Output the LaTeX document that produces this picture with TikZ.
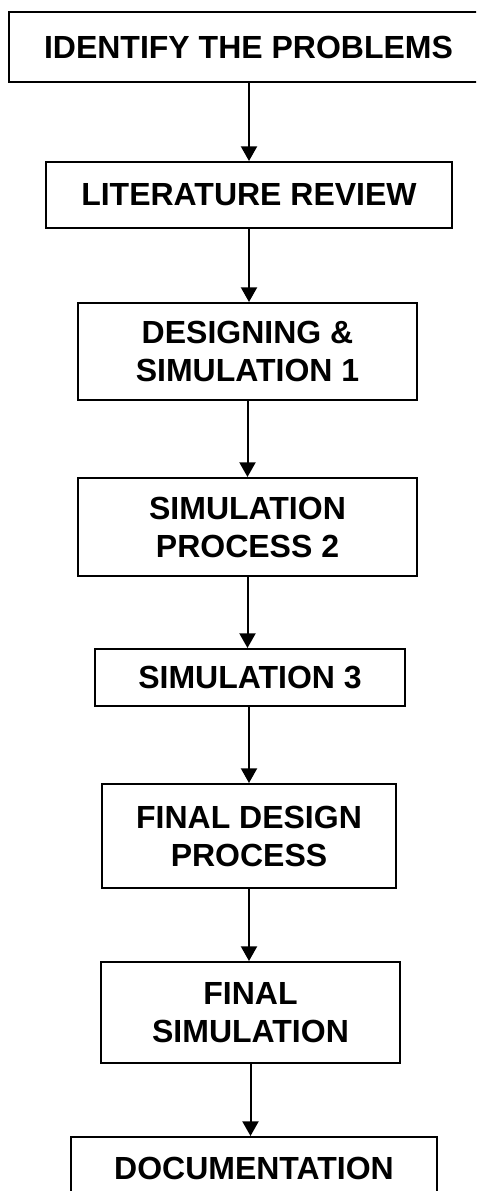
\documentclass[tikz,border=0pt]{standalone}
\usepackage{fontspec}
\setmainfont{Liberation Sans}
\usetikzlibrary{arrows.meta}
\begin{document}
\begin{tikzpicture}[x=0.75pt,y=-0.75pt,
  box/.style={draw, line width=1.5pt, align=center, inner sep=0pt,
    font=\bfseries\fontsize{24}{28.5}\selectfont},
  arr/.style={line width=1.5pt, -{Triangle[length=11pt,width=12pt]}}]
\useasboundingbox (0,0) rectangle (476,1191);
\clip (0,0) rectangle (476,1191);
\fill[white] (0,0) rectangle (476,1191);
\node[box, minimum width=360pt, minimum height=52.5pt] (b1) at (248.5,47) {IDENTIFY THE PROBLEMS};
\node[box, minimum width=304.5pt, minimum height=49.5pt] (b2) at (249,195) {LITERATURE REVIEW};
\node[box, minimum width=254.25pt, minimum height=72.75pt] (b3) at (247.5,351.5) {DESIGNING \&\\SIMULATION 1};
\node[box, minimum width=254.25pt, minimum height=73.5pt] (b4) at (247.5,527) {SIMULATION\\PROCESS 2};
\node[box, minimum width=232.5pt, minimum height=42.75pt] (b5) at (250,677.5) {SIMULATION 3};
\node[box, minimum width=220.5pt, minimum height=78pt] (b6) at (249,836) {FINAL DESIGN\\PROCESS};
\node[box, minimum width=224.25pt, minimum height=75.75pt] (b7) at (250.5,1012.5) {FINAL\\SIMULATION};
\node[box, minimum width=274.5pt, minimum height=46.5pt] (b8) at (254,1168) {DOCUMENTATION};
\draw[arr] (b1.south -| b2.north) -- (b2.north);
\draw[arr] (b2.south) -- (b2.south |- b3.north);
\draw[arr] (b3.south) -- (b4.north);
\draw[arr] (b4.south) -- (b4.south |- b5.north);
\draw[arr] (b5.south -| b6.north) -- (b6.north);
\draw[arr] (b6.south) -- (b6.south |- b7.north);
\draw[arr] (b7.south) -- (b7.south |- b8.north);
\end{tikzpicture}
\end{document}
